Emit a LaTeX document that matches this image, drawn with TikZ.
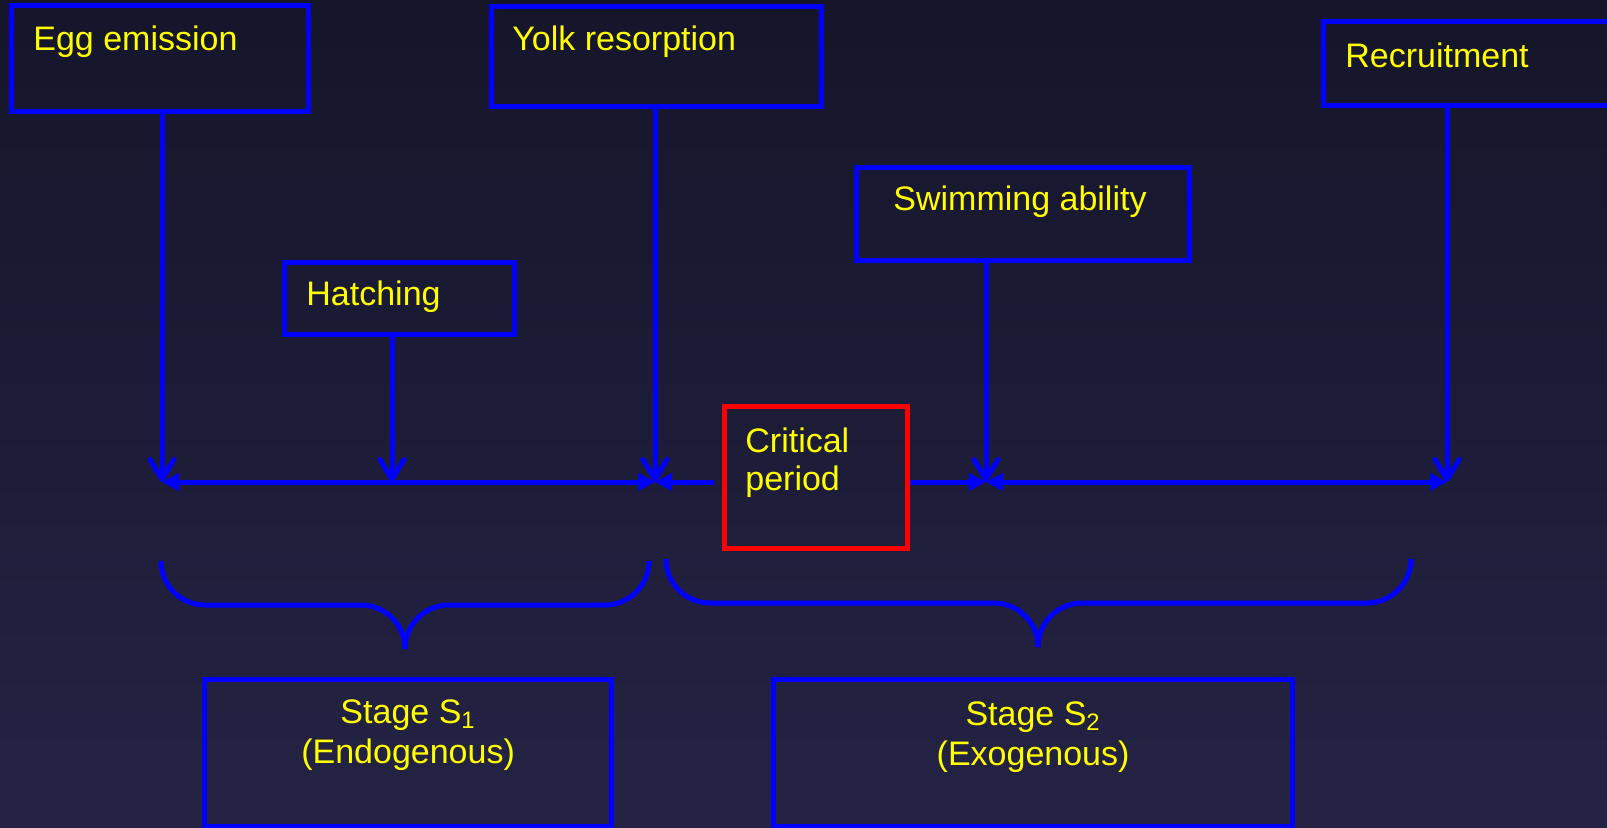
\documentclass[tikz,border=0pt]{standalone}
\usepackage{fontspec}
\setmainfont{Liberation Sans}
\usetikzlibrary{arrows.meta,positioning,calc}
\definecolor{stageblue}{HTML}{0000FF}
\definecolor{stagered}{HTML}{FF0000}
\definecolor{stageyellow}{HTML}{FFFF00}
\definecolor{bgtop}{HTML}{15152A}
\definecolor{bgbottom}{HTML}{242344}

\begin{document}
\begin{tikzpicture}[
  x=0.5pt, y=-0.5pt,
  font=\fontsize{17}{19}\selectfont,
  box/.style={draw=stageblue, line width=2.6pt, inner sep=0pt, anchor=north west},
  lbl/.style={text=stageyellow, inner sep=0pt, anchor=base west, align=left},
  stagelbl/.style={text=stageyellow, inner sep=0pt, anchor=base, align=center,
                   font=\fontsize{17}{20}\selectfont},
  vArr/.style={draw=stageblue, line width=2.5pt, -{Straight Barb[length=10pt,width=12pt,round]}},
  hArr/.style={draw=stageblue, line width=2.5pt, -{Triangle[length=8.5pt,width=8.5pt]}},
  hArrs/.style={draw=stageblue, line width=2.5pt, {Triangle[length=8.5pt,width=8.5pt]}-{Triangle[length=8.5pt,width=8.5pt]}},
  brace/.style={draw=stageblue, line width=2.5pt, rounded corners=22pt}
]
\useasboundingbox (0,0) rectangle (1607,827);
\fill[top color=bgtop, bottom color=bgbottom] (0,0) rectangle (1607,827);

\node[box, minimum width=148.5pt, minimum height=53pt] (egg) at (9,3) {};
\node[box, minimum width=165pt, minimum height=50pt] (yolk) at (489,4) {};
\node[box, minimum width=159.5pt, minimum height=42pt] (recr) at (1321,19) {};
\node[box, minimum width=115pt, minimum height=36pt] (hatch) at (282,260) {};
\node[box, minimum width=166.5pt, minimum height=46.5pt] (swim) at (854,165) {};
\node[box, draw=stagered, minimum width=91.5pt, minimum height=71pt] (crit) at (722,404) {};
\node[box, minimum width=203.5pt, minimum height=73.5pt] (sone) at (202,677) {};
\node[box, minimum width=259.5pt, minimum height=73.5pt] (stwo) at (771,677) {};

\node[lbl] (eggtxt) at ($(egg.north west)+(24,47)$) {Egg emission};
\node[lbl] (yolktxt) at ($(yolk.north west)+(23,46)$) {Yolk resorption};
\node[lbl] (recrtxt) at ($(recr.north west)+(24,48)$) {Recruitment};
\node[lbl] (hatchtxt) at ($(hatch.north west)+(24,45)$) {Hatching};
\node[lbl] (swimtxt) at ($(swim.north west)+(39,45)$) {Swimming ability};
\node[lbl] (crittxt) at ($(crit.north west)+(23,86)$) {Critical\\period};
\node[stagelbl] (sonetxt) at ($(sone.north)+(0,86)$) {Stage S\textsubscript{1}\\(Endogenous)};
\node[stagelbl] (stwotxt) at ($(stwo.north)+(0,88)$) {Stage S\textsubscript{2}\\(Exogenous)};

\coordinate (pEgg) at (162,482);
\coordinate (pHatch) at (392,482);
\coordinate (pYolk) at (655,482);
\coordinate (pSwim) at (986,482);
\coordinate (pRecr) at (1447,482);

\draw[vArr] (egg.south -| pEgg) -- (pEgg);
\draw[vArr] (hatch.south -| pHatch) -- (pHatch);
\draw[vArr] (yolk.south -| pYolk) -- (pYolk);
\draw[vArr] (swim.south -| pSwim) -- (pSwim);
\draw[vArr] (recr.south -| pRecr) -- (pRecr);

\draw[hArrs] (pEgg) -- (pYolk);
\draw[hArr, shorten <=4pt] (crit.west |- pYolk) -- (pYolk);
\draw[hArr] (crit.east |- pSwim) -- (pSwim);
\draw[hArrs] (pSwim) -- (pRecr);

\draw[brace] (161,566) -- (161,605) -- (405,605) -- (405,645);
\draw[brace] (649,566) -- (649,605) -- (405,605) -- (405,645);
\draw[brace] (666,566) -- (666,603) -- (1038,603) -- (1038,641);
\draw[brace] (1411,566) -- (1411,603) -- (1038,603) -- (1038,641);
\end{tikzpicture}
\end{document}
